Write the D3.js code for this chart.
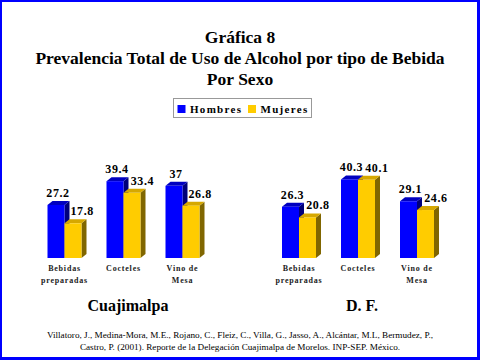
<!DOCTYPE html>
<html><head><meta charset="utf-8">
<script src="https://cdn.jsdelivr.net/npm/d3@7"></script>
<style>
html,body{margin:0;padding:0;background:#fff;}
svg{display:block;}
</style></head>
<body>
<script>
const titleLines = ["Gráfica 8", "Prevalencia Total de Uso de Alcohol por tipo de Bebida", "Por Sexo"];
const categories = [["Bebidas", "preparadas"], ["Cocteles"], ["Vino de", "Mesa"]];
const series = ["Hombres", "Mujeres"];
const panels = ["Cuajimalpa", "D. F."];
const cuajimalpaHombres = [27.2, 39.4, 37];
const cuajimalpaMujeres = [17.8, 33.4, 26.8];
const dfHombres = [26.3, 40.3, 29.1];
const dfMujeres = [20.8, 40.1, 24.6];
const citation = ["Villatoro, J., Medina-Mora, M.E., Rojano, C., Fleiz, C., Villa, G., Jasso, A., Alcántar, M.L, Bermudez, P.,",
  "Castro, P. (2001). Reporte de la Delegación Cuajimalpa de Morelos. INP-SEP. México."];

const colors = {
  Hombres: {front: "#0000ff", top: "#0000c0", side: "#00007a"},
  Mujeres: {front: "#ffcc00", top: "#d6a800", side: "#806600"}
};
const FONT = "'Liberation Serif', 'Times New Roman', Times, 'DejaVu Serif', serif";

const W = 480, H = 360;
const svg = d3.select("body").append("svg").attr("width", W).attr("height", H)
  .attr("font-family", FONT).style("font-family", FONT);

svg.append("rect").attr("x", 0).attr("y", 0).attr("width", W).attr("height", H).attr("fill", "#0000ff");
svg.append("rect").attr("x", 2).attr("y", 2).attr("width", W - 5).attr("height", H - 5).attr("fill", "#fff");

svg.selectAll("text.title").data(titleLines).enter().append("text")
  .attr("class", "title")
  .attr("x", 240).attr("y", (d, i) => 43 + i * 21)
  .attr("text-anchor", "middle").style("font-family", FONT)
  .attr("font-size", 17.5).attr("font-weight", "bold").attr("fill", "#000")
  .text(d => d);

const lg = svg.append("g");
lg.append("rect").attr("x", 173.5).attr("y", 98.5).attr("width", 138).attr("height", 19)
  .attr("fill", "#fff").attr("stroke", "#999").attr("stroke-width", 1);
const legX = [177.5, 248];
series.forEach((s, i) => {
  lg.append("rect").attr("x", legX[i]).attr("y", 105).attr("width", 8).attr("height", 8).attr("fill", colors[s].front);
  lg.append("text").attr("x", legX[i] + 12.5).attr("y", 112.5).style("font-family", FONT)
    .attr("font-size", 11).attr("font-weight", "bold").attr("letter-spacing", 1.3).attr("fill", "#000").text(s);
});

const y = d3.scaleLinear().domain([0, 50]).range([258, 258 - 97.5]);
const dx = 5, dy = 4;

const panelData = [
  {name: panels[0], range: [35, 212], values: [cuajimalpaHombres, cuajimalpaMujeres], titleX: 128},
  {name: panels[1], range: [269.5, 446.5], values: [dfHombres, dfMujeres], titleX: 362}
];

panelData.forEach(p => {
  const x0 = d3.scaleBand().domain(d3.range(categories.length)).range(p.range)
    .paddingInner(25 / 59).paddingOuter(12.5 / 59);
  const x1 = d3.scaleBand().domain(series).range([0, x0.bandwidth()]).padding(0);
  const g = svg.append("g");
  const labelG = svg.append("g");
  const labelBoxes = {};
  series.forEach((s, si) => {
    const vals = p.values[si];
    vals.forEach((v, ci) => {
      const xl = x0(ci) + x1(s);
      const w = x1.bandwidth();
      const yt = y(v), yb = y(0);
      g.append("path").attr("d", `M${xl + w},${yt} L${xl + w + dx},${yt - dy} L${xl + w + dx},${yb - dy} L${xl + w},${yb} Z`)
        .attr("fill", colors[s].side);
      g.append("path").attr("d", `M${xl},${yt} L${xl + dx},${yt - dy} L${xl + w + dx},${yt - dy} L${xl + w},${yt} Z`)
        .attr("fill", colors[s].top);
      g.append("rect").attr("x", xl).attr("y", yt).attr("width", w).attr("height", yb - yt).attr("fill", colors[s].front);
      const baseline = yt - 8;
      const t = labelG.append("text").attr("x", xl + w / 2 + 2).attr("y", baseline)
        .attr("text-anchor", "middle").style("font-family", FONT).attr("font-size", 12).attr("font-weight", "bold")
        .attr("letter-spacing", 0.6).attr("fill", "#000").text(String(v));
      const bb = t.node().getBBox();
      if (si === 0) {
        labelBoxes[ci] = {bb, sideRight: xl + w + dx, depthTop: yt - dy};
      } else {
        const prev = labelBoxes[ci];
        let shift = 0;
        const vOverlap = bb.y < prev.bb.y + prev.bb.height && prev.bb.y < bb.y + bb.height;
        if (vOverlap) shift = Math.max(shift, prev.bb.x + prev.bb.width + 2 - bb.x);
        if (baseline - prev.depthTop > 6) shift = Math.max(shift, prev.sideRight + 1 - bb.x);
        if (shift > 0) t.attr("x", +t.attr("x") + shift);
      }
    });
  });
  categories.forEach((lines, ci) => {
    const cx = x0(ci) + x0.bandwidth() / 2;
    lines.forEach((ln, li) => {
      g.append("text").attr("x", cx).attr("y", 270.5 + li * 12)
        .attr("text-anchor", "middle").style("font-family", FONT).attr("font-size", 8).attr("font-weight", "bold")
        .attr("letter-spacing", 0.8).attr("fill", "#222").text(ln);
    });
  });
  g.append("text").attr("x", p.titleX).attr("y", 311).attr("text-anchor", "middle").style("font-family", FONT)
    .attr("font-size", 16).attr("font-weight", "bold").attr("fill", "#000").text(p.name);
});

svg.selectAll("text.cit").data(citation).enter().append("text")
  .attr("class", "cit").attr("x", 240).attr("y", (d, i) => 338 + i * 12).style("font-family", FONT)
  .attr("text-anchor", "middle").attr("font-size", 9.2).attr("fill", "#000").text(d => d);
</script>
</body></html>
